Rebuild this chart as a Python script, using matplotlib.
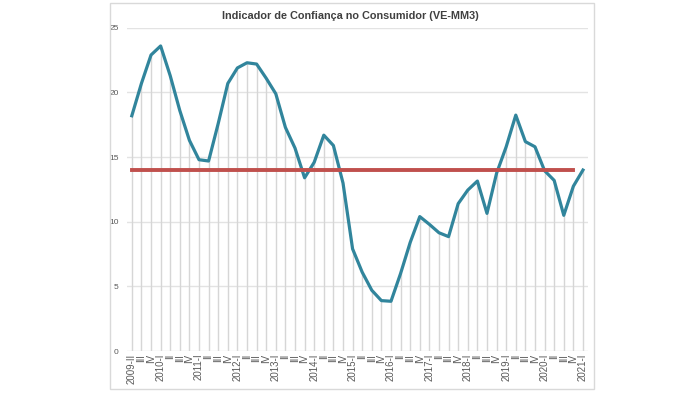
import matplotlib.pyplot as plt
from matplotlib.patches import Rectangle

plt.rcParams['font.family'] = ['Liberation Sans', 'DejaVu Sans']

# quarters 2009-II .. 2021-I
quarters = ['2009-II', 'III', 'IV',
            '2010-I', 'II', 'III', 'IV',
            '2011-I', 'II', 'III', 'IV',
            '2012-I', 'II', 'III', 'IV',
            '2013-I', 'II', 'III', 'IV',
            '2014-I', 'II', 'III', 'IV',
            '2015-I', 'II', 'III', 'IV',
            '2016-I', 'II', 'III', 'IV',
            '2017-I', 'II', 'III', 'IV',
            '2018-I', 'II', 'III', 'IV',
            '2019-I', 'II', 'III', 'IV',
            '2020-I', 'II', 'III', 'IV',
            '2021-I']

icc = [18.2, 20.7, 22.9,
       23.6, 21.3, 18.6, 16.3,
       14.8, 14.7, 17.6, 20.7,
       21.9, 22.3, 22.2, 21.1,
       19.9, 17.3, 15.7, 13.4,
       14.6, 16.7, 15.9, 13.0,
       7.9, 6.1, 4.7, 3.9,
       3.85, 6.0, 8.4, 10.4,
       9.8, 9.15, 8.85, 11.4,
       12.45, 13.15, 10.65, 13.75,
       15.8, 18.25, 16.2, 15.8,
       13.95, 13.2, 10.5, 12.75,
       14.0]

media = 14.0  # horizontal reference line, runs up to 2020-IV

x = list(range(len(quarters)))

fig = plt.figure(figsize=(6.96, 3.98), dpi=100)
ax = fig.add_axes([0.1825, 0.118, 0.662, 0.812])

# panel frame
fig.patches.append(Rectangle((110/696, 1 - 389/398), 484/696, 386/398,
                             transform=fig.transFigure, fill=False,
                             edgecolor='#d9d9d9', lw=1))

ax.set_ylim(0, 25)
ax.set_xlim(-0.5, len(quarters) - 0.5)
ax.set_yticks([0, 5, 10, 15, 20, 25])
ax.yaxis.grid(True, color='#e3e3e3', lw=1)
ax.set_axisbelow(True)

# drop lines
ax.vlines(x, 0, icc, color='#d6d6d6', lw=1, zorder=1)

ax.plot(x, icc, color='#31859C', lw=2.3, zorder=3)
ax.plot(x[:-1], [media] * (len(x) - 1), color='#C0504D', lw=2.8, zorder=4)

ax.set_xticks(x)
ax.set_xticklabels(quarters, rotation=90, fontsize=7, color='#595959')
ax.tick_params(axis='y', labelsize=6, colors='#595959', length=0, pad=6)
ax.tick_params(axis='x', length=0, pad=2)
for s in ax.spines.values():
    s.set_visible(False)

fig.text(0.503, 0.96, 'Indicador de Confiança no Consumidor (VE-MM3)',
         ha='center', va='center', fontsize=7.8, fontweight='bold', color='#404040')

fig.savefig('out.png', dpi=100)
